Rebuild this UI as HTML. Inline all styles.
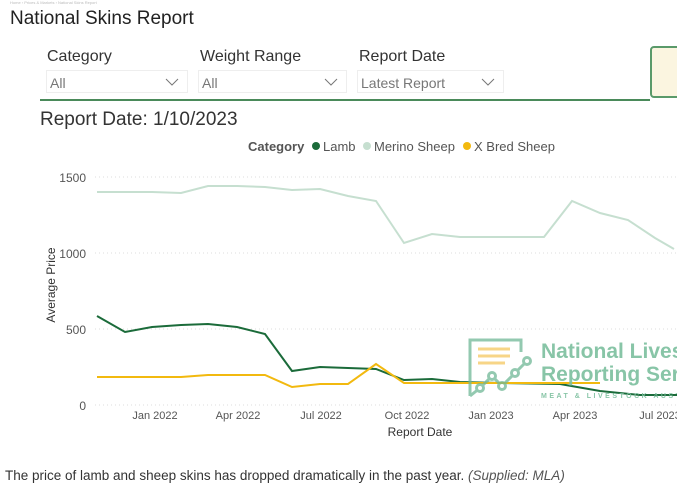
<!DOCTYPE html>
<html><head><meta charset="utf-8"><style>
body{margin:0;width:677px;height:491px;background:#fff;overflow:hidden;font-family:"Liberation Sans","DejaVu Sans",sans-serif;position:relative}
.a{position:absolute;white-space:nowrap}
.dd{position:absolute;height:23px;border:1px solid #eee;background:#fff;font-size:14px;color:#777;line-height:25px;padding-left:3px;box-sizing:border-box}
.dd svg{position:absolute;right:8px;top:7px}
</style></head><body>
<div class="a" style="left:10px;top:0;font-size:4px;color:#bbb">Home › Prices & Markets › National Skins Report</div>
<div class="a" style="left:10px;top:8px;font-size:19px;color:#222">National Skins Report</div>
<div class="a" style="left:47px;top:48px;font-size:16px;color:#333">Category</div>
<div class="a" style="left:200px;top:48px;font-size:16px;color:#333">Weight Range</div>
<div class="a" style="left:359px;top:48px;font-size:16px;color:#333">Report Date</div>
<div class="dd" style="left:46px;top:70px;width:142px">All<svg width="14" height="8"><polyline points="1,1 7,7 13,1" fill="none" stroke="#777"/></svg></div>
<div class="dd" style="left:198px;top:70px;width:149px">All<svg width="14" height="8"><polyline points="1,1 7,7 13,1" fill="none" stroke="#777"/></svg></div>
<div class="dd" style="left:357px;top:70px;width:147px">Latest Report<svg width="14" height="8"><polyline points="1,1 7,7 13,1" fill="none" stroke="#777"/></svg></div>
<div class="a" style="left:650px;top:46px;width:40px;height:48px;border:2px solid #5a9a6a;border-radius:4px;background:#fbf5e0"></div>
<div class="a" style="left:40px;top:99px;width:610px;height:2px;background:#4a8a5a"></div>
<div class="a" style="left:40px;top:109px;font-size:19px;color:#333">Report Date: 1/10/2023</div>
<svg class="a" style="left:0;top:0" width="677" height="491">
<g font-size="13" fill="#555"><text x="248" y="151" font-weight="bold">Category</text>
<circle cx="316" cy="146" r="4" fill="#1b6b3a"/><text x="323" y="151">Lamb</text>
<circle cx="367" cy="146" r="4" fill="#c6dfd0"/><text x="374" y="151">Merino Sheep</text>
<circle cx="467" cy="146" r="4" fill="#f2b90f"/><text x="474" y="151">X Bred Sheep</text></g>
<g stroke="#ddd" stroke-dasharray="1,3"><line x1="95" x2="677" y1="177" y2="177"/><line x1="95" x2="677" y1="253" y2="253"/><line x1="95" x2="677" y1="329" y2="329"/><line x1="95" x2="677" y1="405" y2="405"/></g>
<g font-size="12" fill="#555" text-anchor="end"><text x="86" y="182">1500</text><text x="86" y="258">1000</text><text x="86" y="334">500</text><text x="86" y="410">0</text></g>
<g font-size="11" fill="#555" text-anchor="middle"><text x="155" y="419">Jan 2022</text><text x="238" y="419">Apr 2022</text><text x="321" y="419">Jul 2022</text><text x="407" y="419">Oct 2022</text><text x="491" y="419">Jan 2023</text><text x="575" y="419">Apr 2023</text><text x="660" y="419">Jul 2023</text></g>
<text x="420" y="436" font-size="12" fill="#333" text-anchor="middle">Report Date</text>
<text transform="translate(55,285) rotate(-90)" font-size="12" fill="#333" text-anchor="middle">Average Price</text>
<polyline fill="none" stroke="#c6dfd0" stroke-width="2" points="97,192 125,192 152,192 181,193 208,186 237,186 265,187 292,190 320,189 348,196 376,201 404,243 432,234 460,237 488,237 516,237 544,237 572,201 600,213 628,220 655,238 674,249"/>
<polyline fill="none" stroke="#1b6b3a" stroke-width="2" points="97,316 125,332 152,327 181,325 208,324 237,327 265,334 292,371 320,367 348,368 376,369 404,380 432,379 460,382 500,383 560,384 600,391 640,395 677,395"/>
<polyline fill="none" stroke="#f2b90f" stroke-width="2" points="97,377 181,377 208,375 265,375 292,387 320,384 348,384 376,364 404,383 460,383 600,383"/>
<g opacity="0.75" fill="none" stroke="#6fb896" stroke-width="3">
<path d="M470,396 V340 h51 v12 M470,396 l10,-8"/>
<line x1="478" y1="349" x2="510" y2="349" stroke="#f5c860"/><line x1="478" y1="356" x2="510" y2="356" stroke="#f5c860"/><line x1="478" y1="363" x2="505" y2="363" stroke="#f5c860"/>
<polyline points="480,388 492,376 502,386 515,373 527,361"/>
<circle cx="480" cy="388" r="3.5" fill="#fff"/><circle cx="492" cy="376" r="3.5" fill="#fff"/><circle cx="502" cy="386" r="3.5" fill="#fff"/><circle cx="515" cy="373" r="3.5" fill="#fff"/><circle cx="527" cy="361" r="3.5" fill="#fff"/>
</g>
<g fill="#7cbf9e" font-weight="bold" opacity="0.9"><text x="541" y="358" font-size="21">National Livestock</text><text x="541" y="381" font-size="21">Reporting Service</text>
<text x="541" y="398" font-size="7" letter-spacing="2.5">MEAT &amp; LIVESTOCK AUSTRALIA</text></g>
</svg>
<div class="a" style="left:5px;top:468px;font-size:13.5px;color:#333">The price of lamb and sheep skins has dropped dramatically in the past year. <i style="color:#555">(Supplied: MLA)</i></div>
</body></html>
